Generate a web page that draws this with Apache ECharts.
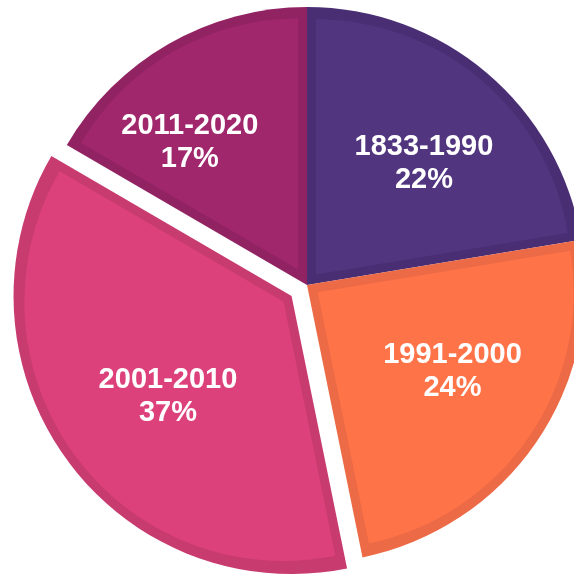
<!DOCTYPE html>
<html>
<head>
<meta charset="utf-8">
<script src="https://cdn.jsdelivr.net/npm/echarts@6/dist/echarts.min.js"></script>
<style>
    html, body { margin: 0; padding: 0; background: #fff; }
    #chart { width: 574px; height: 577px; }
</style>
</head>
<body>
<div id="chart"></div>
<script>
// 数据
var periods = ['1833-1990', '1991-2000', '2001-2010', '2011-2020'];
var shares = [22.4, 24.4, 36.6, 16.6];

// 颜色：内部填充 / 边缘深色
var fillColors = ['#51357f', '#ff7349', '#dd417b', '#a1276d'];
var edgeColors = ['#4a2e74', '#ec6a45', '#c83b6f', '#922363'];

// 标签微调 [dx, dy]
var labelNudge = [[5, 10], [3, -12], [17, 0], [-31, 8]];

var explodedIdx = 2;
var cx = 307, cy = 285, R = 278, edge = 9, explode = 19;

var total = shares.reduce(function (a, b) { return a + b; }, 0);

var chart = echarts.init(document.getElementById('chart'));

var basePie = {
    type: 'pie',
    center: [cx, cy],
    startAngle: 90,
    clockwise: true,
    silent: true,
    animation: false,
    selectedMode: 'single',
    label: {show: false},
    labelLine: {show: false},
    emphasis: {disabled: true}
};

// 深色底层
var series = [
    echarts.util.extend({
        radius: [0, R],
        selectedOffset: explode,
        data: periods.map(function (p, j) {
            return {
                name: p, value: shares[j], selected: j === explodedIdx,
                itemStyle: {color: edgeColors[j], borderWidth: 0}
            };
        })
    }, basePie)
];

// 每个扇区内缩一层浅色
periods.forEach(function (p, i) {
    var half = shares[i] / total * Math.PI;
    var s = edge / Math.sin(half);
    series.push(echarts.util.extend({
        radius: [0, R - edge - s],
        selectedOffset: s + (i === explodedIdx ? explode : 0),
        data: periods.map(function (q, j) {
            return {
                name: q, value: shares[j], selected: j === i,
                itemStyle: {color: j === i ? fillColors[j] : 'transparent', borderWidth: 0}
            };
        })
    }, basePie));
});

// 标签层
series.push({
    type: 'pie',
    center: [cx, cy],
    radius: [0, 340],
    startAngle: 90,
    clockwise: true,
    silent: true,
    selectedMode: 'single',
    selectedOffset: explode,
    percentPrecision: 0,
    labelLine: {show: false},
    emphasis: {disabled: true},
    label: {
        show: true,
        position: 'inside',
        formatter: '{b}\n{d}%',
        color: '#fff',
        fontSize: 29,
        fontWeight: 'bold',
        fontFamily: 'Liberation Sans',
        lineHeight: 33
    },
    data: periods.map(function (p, j) {
        var n = labelNudge[j];
        var fmt = '{b}\n{d}%';
        if (n[1] > 0) fmt = '{gap| }\n' + fmt;
        if (n[1] < 0) fmt = fmt + '\n{gap| }';
        return {
            name: p, value: shares[j], selected: j === explodedIdx,
            itemStyle: {color: 'transparent', borderWidth: 0},
            label: {
                formatter: fmt,
                padding: [0, Math.max(0, -2 * n[0]), 0, Math.max(0, 2 * n[0])],
                rich: {gap: {fontSize: 1, lineHeight: Math.abs(2 * n[1])}}
            }
        };
    })
});

chart.setOption({
    backgroundColor: '#fff',
    animation: false,
    series: series
});
</script>
</body>
</html>
